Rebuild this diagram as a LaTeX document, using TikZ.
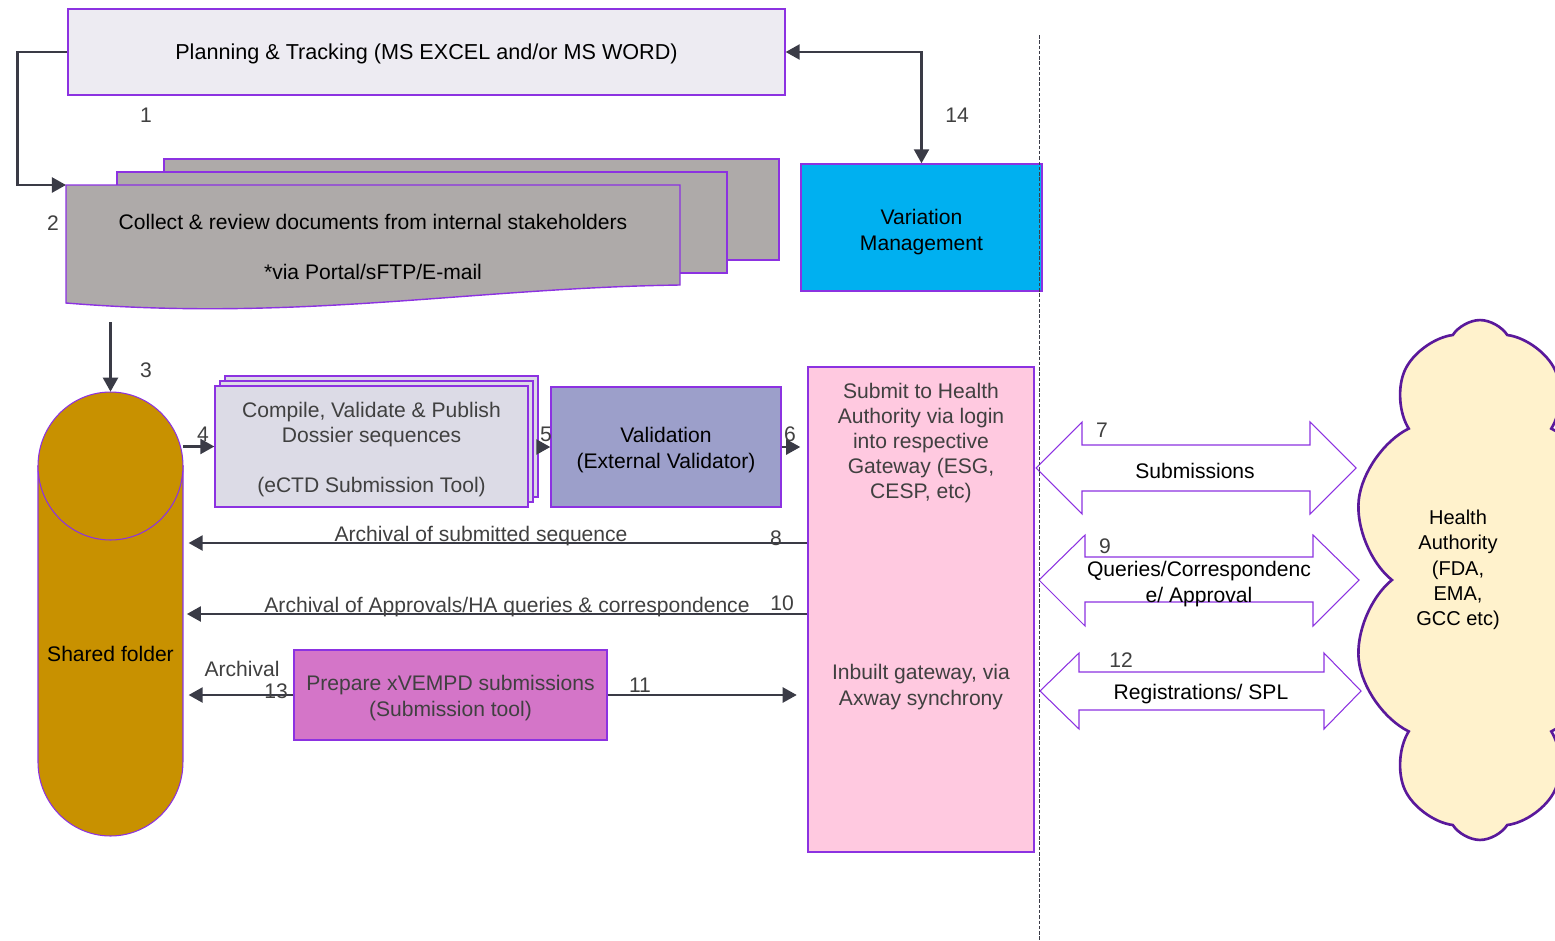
\documentclass[tikz,border=0pt]{standalone}
\usepackage{fontspec}
\setmainfont{Liberation Sans}
\usetikzlibrary{arrows.meta,shapes.symbols}

\definecolor{edgepurple}{RGB}{140,50,225}
\definecolor{arrowgray}{RGB}{58,59,70}
\definecolor{txtgray}{RGB}{64,64,64}
\definecolor{planfill}{RGB}{237,235,242}
\definecolor{docgray}{RGB}{174,170,169}
\definecolor{varblue}{RGB}{0,176,240}
\definecolor{folderfill}{RGB}{200,145,0}
\definecolor{compilefill}{RGB}{220,219,230}
\definecolor{validfill}{RGB}{156,159,202}
\definecolor{pinkfill}{RGB}{255,201,224}
\definecolor{xvempdfill}{RGB}{212,117,200}
\definecolor{cloudfill}{RGB}{255,242,204}
\definecolor{cloudedge}{RGB}{90,25,155}

\begin{document}
\begin{tikzpicture}[x=0.02cm, y=-0.02cm,
    font=\fontsize{12}{14.3}\selectfont,
    >={Triangle[length=8pt,width=8.5pt]},
    box/.style={draw=edgepurple, line width=0.8pt, rectangle, align=center, inner sep=2pt},
    flow/.style={draw=arrowgray, line width=1.5pt},
    num/.style={text=txtgray},
    dblarrow/.style={draw=edgepurple, line width=0.6pt, fill=white}]

    \useasboundingbox (0,0) rectangle (1555,940);

    % planning
    \node[box, fill=planfill, minimum width=14.34cm, minimum height=1.72cm] (plan) at (426.5,52) {};
    \node[font=\fontsize{12.3}{14}\selectfont] (plantxt) at (426.5,54) {Planning \& Tracking (MS EXCEL and/or MS WORD)};

    % document stack
    \draw[draw=edgepurple, fill=docgray, line width=0.8pt] (164,159) rectangle (779,260);
    \draw[draw=edgepurple, fill=docgray, line width=0.8pt] (117,172) rectangle (727,273);
    \draw[draw=edgepurple, fill=docgray, line width=0.8pt] (66,185) -- (680,185) -- (680,285) .. controls (470,288) and (300,322) .. (66,303) -- cycle;
    \coordinate (doctl) at (66,185);
    \node[align=center] (collect) at (373,247) {Collect \& review documents from internal stakeholders\\[14pt]*via Portal/sFTP/E-mail};

    % variation
    \node[box, fill=varblue, minimum width=4.82cm, minimum height=2.54cm] (var) at (921.5,227.5) {};
    \node[align=center] (vartxt) at (921.5,232) {Variation\\Management};

    % shared folder
    \node[minimum width=2.9cm, minimum height=8.88cm, inner sep=0pt] (folder) at (110.5,614) {};
    \draw[draw=edgepurple, fill=folderfill, line width=0.6pt] (38,466) -- (38,762) arc[start angle=180, end angle=360, x radius=1.45cm, y radius=1.48cm] -- (183,466) -- cycle;
    \draw[draw=edgepurple, fill=folderfill, line width=0.6pt] (110.5,466) ellipse[x radius=1.45cm, y radius=1.48cm];
    \node (folderlbl) at (110.5,654) {Shared folder};

    % compile / validate
    \node[box, fill=compilefill, minimum width=6.26cm, minimum height=2.42cm] (compile3) at (381.5,436.5) {};
    \node[box, fill=compilefill, minimum width=6.26cm, minimum height=2.42cm] (compile2) at (376.5,441.5) {};
    \node[box, fill=compilefill, minimum width=6.26cm, minimum height=2.42cm] (compile) at (371.5,446.5) {};
    \node[text=txtgray, align=center] (compiletxt) at (371.5,449.5) {Compile, Validate \& Publish\\Dossier sequences\\[14.3pt](eCTD Submission Tool)};
    \node[box, fill=validfill, minimum width=4.6cm, minimum height=2.4cm] (valid) at (666,447) {};
    \node[align=center] (validtxt) at (666,450) {Validation\\(External Validator)};

    % submit
    \node[box, fill=pinkfill, minimum width=4.52cm, minimum height=9.7cm] (pink) at (921,609.5) {};
    \node[text=txtgray, align=center] (pinktop) at (921,443) {Submit to Health\\Authority via login\\into respective\\Gateway (ESG,\\CESP, etc)};
    \node[text=txtgray, align=center] (pinkbot) at (921,687) {Inbuilt gateway, via\\Axway synchrony};

    \node[box, fill=xvempdfill, minimum width=6.26cm, minimum height=1.8cm] (xvempd) at (450.5,695) {};
    \node[text=txtgray, align=center] (xvempdtxt) at (450.5,698) {Prepare xVEMPD submissions\\(Submission tool)};

    % exchange with authority
    \draw[dblarrow] (1036,468) -- (1082,422) -- (1082,445) -- (1310,445) -- (1310,422) -- (1356,468) -- (1310,514) -- (1310,491) -- (1082,491) -- (1082,514) -- cycle;
    \draw[dblarrow] (1039,580) -- (1085,535) -- (1085,557) -- (1313,557) -- (1313,535) -- (1359,580) -- (1313,626) -- (1313,602) -- (1085,602) -- (1085,626) -- cycle;
    \draw[dblarrow] (1040,691) -- (1079,653) -- (1079,672) -- (1324,672) -- (1324,653) -- (1361,691) -- (1324,729) -- (1324,710) -- (1079,710) -- (1079,729) -- cycle;
    \node[num] (n7) at (1102,430) {7};
    \node (subm) at (1195,471) {Submissions};
    \node[num] (n9) at (1105,546) {9};
    \node[align=center] (query) at (1199,584) {Queries/Correspondenc\\e/ Approval};
    \node[num] (n12) at (1121,660) {12};
    \node (regs) at (1201,694) {Registrations/ SPL};

    \node[cloud, cloud puffs=10, cloud puff arc=115, cloud ignores aspect, draw=cloudedge, fill=cloudfill, line width=1.5pt, minimum width=5.1cm, minimum height=10.4cm] (ha) at (1480,580) {};
    \node[align=center, font=\fontsize{11.4}{14.4}\selectfont] (halbl) at (1458,570) {Health\\Authority\\(FDA,\\EMA,\\GCC etc)};

    \draw[arrowgray, line width=0.5pt, dash pattern=on 2pt off 1pt] (1039,35) -- (1039,940);

    % connectors
    \draw[flow,->] (plan.west) -- ++(-50,0) |- (doctl);
    \node[num] (n1) at (146,115) {1};
    \node[num] (n2) at (53,223) {2};
    \draw[flow,<->] (plan.east) -| (var.north);
    \node[num] (n14) at (957,115) {14};

    \coordinate (c3) at (110.5,322);
    \draw[flow,->] (c3) -- (folder.north);
    \node[num] (n3) at (146,370) {3};
    \draw[flow,->] (folder.east |- compile) -- (compile.west);
    \node[num] (n4) at (203,434) {4};
    \draw[flow,->] (compile3.east |- valid) -- (valid.west);
    \node[num] (n5) at (546,434) {5};
    \draw[flow,->, shorten >=4pt] (valid.east) -- (pink.west |- valid);
    \node[num] (n6) at (790,434) {6};

    \draw[flow,->, shorten >=3pt] (pink.west |- 0,543) -- (folder.east |- 0,543);
    \node[text=txtgray] (arch8) at (481,536) {Archival of submitted sequence};
    \node[num] (n8) at (776,538) {8};
    \draw[flow,->, shorten >=2pt] (pink.west |- 0,614) -- (folder.east |- 0,614);
    \node[text=txtgray] (arch10) at (507,607) {Archival of Approvals/HA queries \& correspondence};
    \node[num] (n10) at (782,603) {10};

    \draw[flow,->, shorten >=3pt] (xvempd.west) -- (folder.east |- xvempd);
    \node[text=txtgray] (arch13) at (242,669) {Archival};
    \node[num] (n13) at (276,691) {13};
    \draw[flow,->, shorten >=6pt] (xvempd.east) -- (pink.west |- xvempd);
    \node[num] (n11) at (640,685) {11};
\end{tikzpicture}
\end{document}
